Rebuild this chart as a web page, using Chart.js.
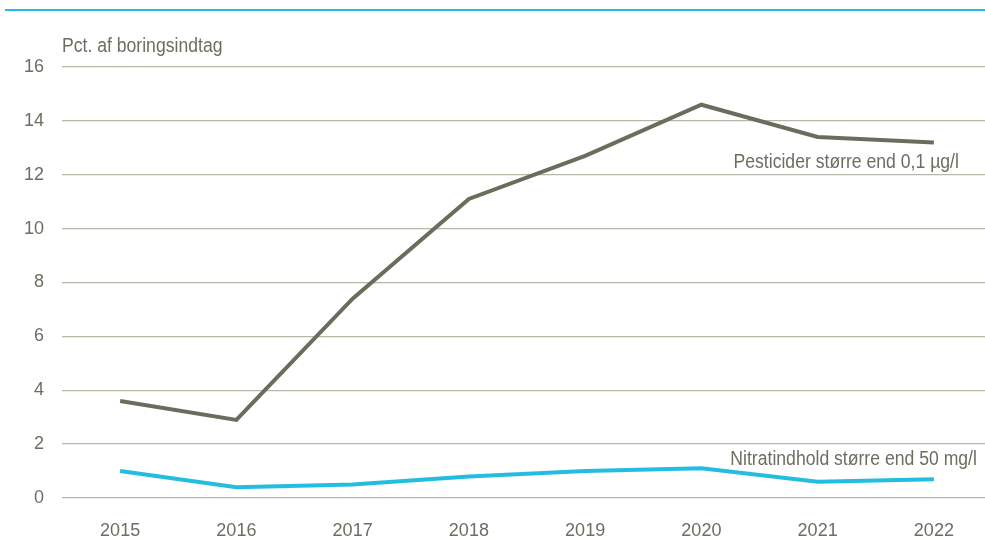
<!DOCTYPE html>
<html>
<head>
<meta charset="utf-8">
<script src="https://cdn.jsdelivr.net/npm/chart.js@4.4.1/dist/chart.umd.min.js"></script>
<style>
  html, body { margin: 0; padding: 0; background: #ffffff; overflow: hidden; }
  #wrap { position: relative; width: 992px; height: 541px; }
</style>
</head>
<body>
<div id="wrap"><canvas id="c"></canvas></div>
<script>
const years = ["2015", "2016", "2017", "2018", "2019", "2020", "2021", "2022"];
const pesticider = [3.6, 2.9, 7.4, 11.1, 12.7, 14.6, 13.4, 13.2];
const nitrat = [1.0, 0.4, 0.5, 0.8, 1.0, 1.1, 0.6, 0.7];
const yTicks = [0, 2, 4, 6, 8, 10, 12, 14, 16];
const yTitle = "Pct. af boringsindtag";
const pestLabel = "Pesticider større end 0,1 µg/l";
const nitLabel = "Nitratindhold større end 50 mg/l";

const FONT = "'Liberation Sans Narrow', 'Arial Narrow', 'Liberation Sans', sans-serif";
const TEXT = "#6f6d60";
const GREY = "#6c6c5d";
const CYAN = "#24bde2";

function narrowText(ctx, text, x, y, align) {
  const sx = 0.88;
  ctx.save();
  ctx.translate(x, y);
  ctx.scale(sx, 1);
  ctx.textAlign = align;
  ctx.fillText(text, 0, 0);
  ctx.restore();
}

const extras = {
  id: "extras",
  afterDraw(chart) {
    const ctx = chart.ctx;
    const ca = chart.chartArea;
    const xs = chart.scales.x, ys = chart.scales.y;
    ctx.save();
    // top rule
    ctx.strokeStyle = CYAN;
    ctx.lineWidth = 2;
    ctx.beginPath();
    ctx.moveTo(5, 10);
    ctx.lineTo(985, 10);
    ctx.stroke();
    // y title
    ctx.fillStyle = TEXT;
    ctx.font = "20px " + FONT;
    ctx.textBaseline = "middle";
    narrowText(ctx, yTitle, ca.left, ca.top - 21, "left");
    // series labels
    narrowText(ctx, pestLabel, xs.getPixelForValue(7) + 25, ys.getPixelForValue(12.45), "right");
    narrowText(ctx, nitLabel, xs.getPixelForValue(7) + 43, ys.getPixelForValue(1.42), "right");
    ctx.restore();
  }
};

new Chart(document.getElementById("c"), {
  type: "line",
  data: {
    labels: years,
    datasets: [
      { label: pestLabel, data: pesticider, borderColor: GREY, borderWidth: 4, pointRadius: 0, tension: 0, fill: false },
      { label: nitLabel, data: nitrat, borderColor: CYAN, borderWidth: 4, pointRadius: 0, tension: 0, fill: false }
    ]
  },
  options: {
    responsive: true,
    maintainAspectRatio: false,
    animation: false,
    layout: { padding: { top: 67, left: 0, right: 0, bottom: 0 } },
    plugins: { legend: { display: false }, tooltip: { enabled: false } },
    scales: {
      x: {
        offset: true,
        grid: { display: false },
        border: { display: false },
        ticks: { color: TEXT, font: { family: FONT, size: 18 }, padding: 14, maxRotation: 0 },
        afterFit(s) { s.height = 43; }
      },
      y: {
        min: 0, max: 16,
        afterBuildTicks(s) { s.ticks = yTicks.map(v => ({ value: v })); },
        grid: { color: "#b8b6a9", lineWidth: 1.3, drawTicks: false },
        border: { display: false },
        ticks: { color: TEXT, font: { family: FONT, size: 18 }, padding: 18 },
        afterFit(s) { s.width = 62; }
      }
    }
  },
  plugins: [extras]
});
</script>
</body>
</html>
